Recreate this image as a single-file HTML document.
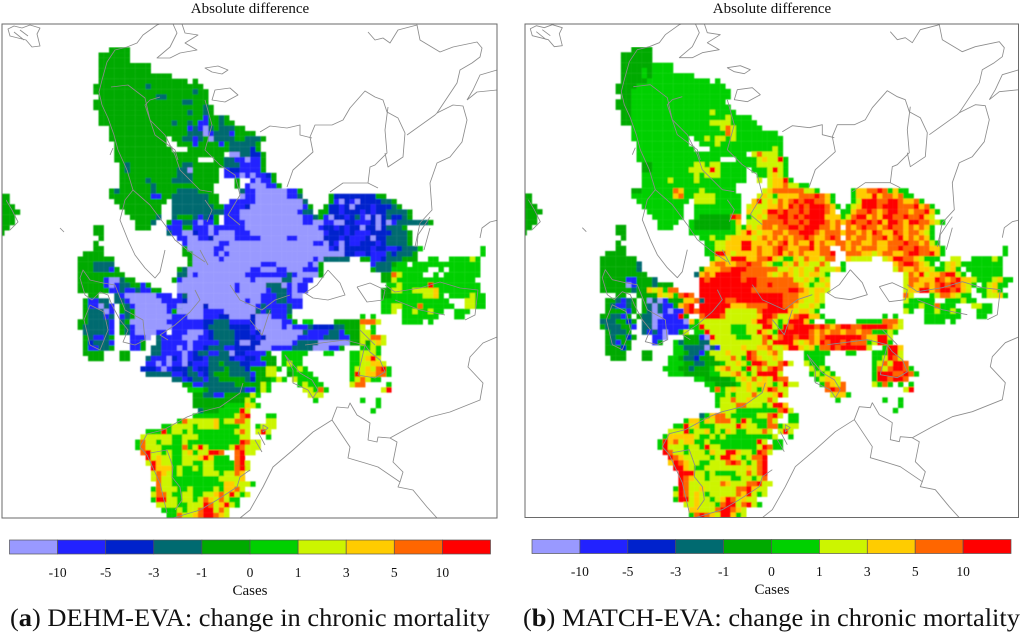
<!DOCTYPE html>
<html lang="en"><head><meta charset="utf-8"><title>Change in chronic mortality</title>
<style>
html,body{margin:0;padding:0;background:#fff}
svg{display:block}
text{font-family:"Liberation Serif",serif;fill:#111}
</style></head>
<body>
<svg id="fig" xmlns="http://www.w3.org/2000/svg" width="1024" height="635" viewBox="0 0 1024 635">
<defs>
<clipPath id="clipA"><rect x="2" y="24" width="495" height="494"/></clipPath>
<clipPath id="clipB"><rect x="525" y="24" width="493.5" height="493.5"/></clipPath>
<filter id="soft" x="0" y="0" width="100%" height="100%"><feGaussianBlur stdDeviation="0.45"/></filter>
<filter id="softline" x="0" y="0" width="100%" height="100%"><feGaussianBlur stdDeviation="0.3"/></filter>
<g id="basemap" fill="none" stroke="#8c8c8c" stroke-width="0.85" stroke-linejoin="round">
<path d="M8 29 L14 26 L22 28 L30 25 L40 28 L37 34 L40 46 L32 47 L26 40 L18 38 L10 36 Z M20 30 L28 36 M14 32 L24 40"/>
<path d="M127 47 L137 43 L143 35 L157 25 L160 24 M173 24 L177 33 L170 47 L157 58 L170 58 L180 53 L197 50 L185 43 L198 35 L185 33 L182 24"/>
<path d="M205 68 L218 66 L228 70 L222 74 L212 72 Z M215 90 L230 88 L238 95 L225 102 L212 100 Z"/>
<path d="M368 32 L375 40 L383 38 L390 43 L398 30 L417 25 L420 40 L440 52 L453 47 L477 42 L482 48 L480 57 L472 63 L460 70 L457 83 L437 113 L435 115 L407 135"/>
<path d="M437 113 L453 105 L463 106 L467 120 L462 142 L450 157 L437 163 L430 183 L432 210 L420 223 L415 247"/>
<path d="M287 187 L293 170 L313 152 L310 137 L315 125 L332 125 L343 120 L350 108 L365 91 L375 97 L383 100 L387 112 L398 118 L405 133 L403 157 L388 167 L385 153"/>
<path d="M260 132 L270 126 L287 128 L300 125 L300 135 L312 138 M368 183 L370 167 L375 165 L387 153 L385 130 L388 107"/>
<path d="M330 192 L343 183 L363 183 L368 183 L378 188 M467 100 L477 92 L497 90 M497 70 L480 75 L473 90 L467 100"/>
<path d="M497 337 L483 343 L470 357 L468 367 L483 383 L480 400 L450 412 L430 417 L410 427 L390 438 L378 437 L377 442 L368 440 L370 423 L357 415 L350 403 L348 408 L337 407 L332 420 L313 432 L293 450 L273 467 L263 487 L250 510 L240 518"/>
<path d="M332 420 L350 447 L348 458 L365 463 L378 467 L400 482 L398 487 L413 490 L427 507 L437 518 M390 438 L397 442 L393 462 L403 472 L400 482"/>
<path d="M480 238 L482 228 L490 222 L498 220 M417 247 L418 235 L430 217 M424 250 L430 228"/>
<path d="M328 270 L340 283 L345 295 L328 300 L313 298 L305 293 L317 285 L328 270 M357 287 L370 283 L385 290 L383 300 L367 302 L357 287"/>
<path d="M127 47 L115 50 L107 62 L102 80 L99 92 L102 105 L108 118 L114 135 L118 150 L127 170 L133 190 L125 200 L120 220 L128 240 L135 255 L145 268 L155 278 L160 272 L165 250"/>
<path d="M111 87 L128 85 L145 98 L150 120 L165 135 L175 155 L180 170 L200 190 L212 192"/>
<path d="M160 97 L150 100 L145 105 L155 135 L175 150 L178 160 M133 190 L150 205 L165 225 L175 240 L190 252 L205 262"/>
<path d="M205 100 L212 125 L205 150 L220 165 L235 175 L240 195 L228 215 L240 225 M205 200 L212 210 L207 222 M200 250 L208 265"/>
<path d="M6 200 L12 210 L18 222 L10 230 M60 228 L64 232 M110 155 L113 148"/>
<path d="M83 270 L90 280 L103 283 L115 285 L125 310 L143 320 L145 340 L135 345 L123 342 L128 330 L120 320 L112 305 L108 295 L100 292 L92 300 L85 295 L80 278 Z"/>
<path d="M90 305 L84 320 L90 345 L100 350 L108 330 L104 312 Z"/>
<path d="M147 434 L163 430 L187 417 L200 412 L220 407 L240 393 L243 383 M147 434 L140 447 L147 455 L160 483 L167 513 M250 470 L240 477 L237 487 L217 500 L200 510 L173 518"/>
<path d="M150 453 L167 450 L173 467 L172 477 L180 487 L182 500 L175 510"/>
<path d="M195 290 L200 300 L190 312 L175 325 L160 335 L168 340 M230 285 L240 300 L262 310 L275 300 L290 295 M250 320 L262 335 L270 310"/>
<path d="M285 355 L300 373 L312 380 L318 390 L313 398 L308 390 L293 383 L293 370 Z M365 345 L358 375 L375 378 L385 372 L380 360 L370 352 Z M360 330 L375 345 M305 345 L345 340 L365 345"/>
<path d="M385 285 L395 292 L420 288 L440 282 L460 288 L478 290 L475 315 L465 320 M395 300 L420 310 L445 315"/>
<path d="M263 425 L268 428 L263 432 Z M265 445 L258 432 M255 440 L262 452"/>
</g>
</defs>
<rect x="0" y="0" width="1024" height="635" fill="#fff"/>
<text x="250" y="13" text-anchor="middle" font-size="15">Absolute difference</text>
<text x="772" y="13" text-anchor="middle" font-size="15">Absolute difference</text>
<g id="panelA"></g>
<g id="panelB"></g>
<g id="legendA"></g>
<g id="legendB"></g>
<text x="10" y="626" font-size="25" textLength="480" lengthAdjust="spacingAndGlyphs">(<tspan font-weight="bold">a</tspan>) DEHM-EVA: change in chronic mortality</text>
<text x="523" y="626" font-size="25" textLength="497" lengthAdjust="spacingAndGlyphs">(<tspan font-weight="bold">b</tspan>) MATCH-EVA: change in chronic mortality</text>
</svg>
<script>
// Level classes: 0 (< -10) ... 9 (> 10). Row format: "startCol count*level ..."; a bare number jumps to that column.
const levelColors = ["#9999ff","#2222ff","#0022cc","#006a70","#00aa00","#00d000","#ccf500","#ffcc00","#ff6600","#ff0000"];
const tickLabels = ["-10","-5","-3","-1","0","1","3","5","10"];
const rowsA = [
"","","","","",
"20 4*4","18 6*4","18 6*4","18 10*4","18 10*4","18 14*4","18 17*4 1*. 1*4",
"17 10*4 1*3 10*4","17 19*4 1*3 2*4","18 11*4 2*3 8*4","17 17*4 2*3 3*4","17 21*4 1*3 1*4",
"18 17*4 1*3 2*4 1*3 1*4","18 20*4 1*1 2*4 1*3 1*4","18 14*4 1*3 2*4 1*3 1*4 2*1 2*4 1*3 2*4",
"20 15*4 1*1 1*3 1*1 1*0 1*3 1*4 3*3 2*4","20 15*4 3*3 1*0 1*1 3*3 1*1 4*4",
"20 11*4 1*. 2*4 1*3 1*3 1*1 1*3 1*4 1*0 4*3 2*4 3*3 1*4",
"21 10*4 2*. 3*4 1*1 4*4 1*1 1*4 5*3 1*4",
"21 11*4 3*. 8*4 4*3 1*2 1*4",
"21 21*4 1*. 2*0 2*3 2*2 1*4",
"21 16*4 3*. 2*4 2*3 2*1 1*0 2*1 1*4",
"22 1*4 1*3 10*4 2*3 6*4 3*3 4*1 1*4",
"22 1*4 1*3 9*4 2*3 1*0 5*4 1*. 1*1 2*2 4*1 1*4",
"22 11*4 3*3 5*4 1*. 3*1 1*0 1*1 1*0 2*1 1*2 1*4",
"22 5*4 1*3 4*4 1*3 3*3 5*4 3*. 1*4 2*. 1*1 1*0 2*1 1*4",
"22 6*4 1*3 11*4 4*. 1*4 1*. 1*1 3*0 2*1 1*4",
"20 1*4 1*3 6*4 1*3 4*4 4*3 3*4 5*. 1*3 2*1 6*0 2*1 1*4",
"-1 2*4 20 8*4 2*1 2*4 32 7*3 2*4 45 1*0 2*1 6*0 2*1 1*3 62 1*4 8*2 2*4",
"-1 2*4 21 10*4 32 7*3 2*4 43 5*1 8*0 1*0 1*3 62 1*4 1*1 1*0 1*2 1*1 1*0 4*2 2*3 1*4",
"-1 3*4 22 8*4 32 6*3 2*3 2*4 42 4*1 1*2 9*0 1*0 1*1 1*4 61 1*4 2*2 1*1 1*2 1*0 3*2 1*1 3*2 1*3 1*4",
"-1 4*4 23 7*4 32 8*3 2*3 42 3*1 11*0 1*1 2*3 60 2*4 2*2 1*1 3*2 1*1 1*2 1*1 2*2 3*3 1*3 1*4",
"-1 3*4 24 5*4 1*3 32 1*3 3*4 1*3 1*1 1*3 1*2 1*4 42 3*1 12*0 2*1 1*3 3*4 61 1*1 1*0 2*2 1*1 1*2 1*3 1*1 1*0 1*2 1*0 1*2 1*3 2*2 1*3 1*4",
"-1 3*4 25 3*4 1*3 31 1*4 2*1 2*3 1*1 1*0 2*1 1*4 42 4*1 11*0 2*1 2*0 2*1 2*0 2*2 3*1 1*2 1*0 1*2 1*0 1*1 1*3 4*3 1*3 1*4",
"-1 2*4 17 2*4 25 3*4 31 3*1 2*4 3*1 1*0 2*1 4*1 14*0 1*1 2*2 1*1 1*2 1*1 2*2 1*0 2*2 1*0 1*2 1*3 2*3 1*4",
"-1 1*4 17 2*4 31 1*3 2*1 2*0 1*2 2*1 1*0 1*1 3*0 2*1 1*1 14*0 1*1 3*2 1*1 1*2 3*1 1*2 3*2 2*3 1*3 1*4",
"18 1*4 33 2*1 2*0 2*1 1*2 3*0 1*0 5*1 5*0 2*1 5*0 3*2 1*1 1*2 3*1 1*2 1*0 2*2 4*3 1*4",
"17 1*4 34 1*1 6*0 2*1 16*0 2*1 1*0 1*2 1*1 1*0 1*2 2*1 2*2 1*2 1*1 1*2 1*3 3*3 1*4",
"17 2*4 34 1*4 5*0 2*1 20*0 1*1 1*2 1*0 2*2 3*2 1*1 2*2 2*1 1*2 1*3 2*3 1*5 91 1*5",
"15 4*4 34 2*4 4*0 1*1 1*0 1*1 22*0 2*2 2*1 1*2 3*1 1*3 1*2 1*3 2*3 1*4 91 1*5",
"14 7*4 35 1*4 5*0 1*1 17*0 1*1 1*0 1*3 4*3 68 2*4 2*1 1*2 3*3 76 3*4 81 2*5 85 4*5 1*6 1*5",
"14 3*4 4*3 35 1*4 13*0 3*1 6*0 1*1 1*0 1*4 70 1*1 3*3 1*4 2*5 1*. 2*5 80 11*5",
"14 3*4 3*3 1*1 1*4 33 1*4 1*3 12*0 2*1 3*0 2*1 3*0 3*1 1*4 70 1*4 3*3 6*5 1*5 2*. 1*5 1*. 6*5",
"14 9*4 33 2*3 1*0 1*1 9*0 8*1 1*3 1*1 4*0 1*4 72 2*4 1*8 1*6 4*5 2*. 1*5 1*. 7*5",
"14 5*4 1*1 2*0 1*3 2*4 32 1*4 1*1 13*0 1*1 5*0 2*3 2*0 2*1 72 2*4 1*6 1*5 1*5 13*5",
"14 5*4 1*1 1*0 1*1 2*3 2*4 1*1 1*4 33 11*0 1*1 5*0 3*3 1*0 1*1 1*0 1*1 1*1 73 2*5 1*6 5*5 1*9 9*5",
"14 6*4 2*1 1*3 1*1 1*1 1*3 2*1 2*4 33 11*0 1*1 5*0 1*1 3*3 1*1 1*0 2*1 72 2*4 2*6 1*5 1*5 4*6 1*7 8*5",
"16 2*4 21 1*3 1*1 6*0 3*1 33 1*1 1*3 14*0 3*1 2*3 1*1 2*0 72 2*4 6*5 2*6 1*7 1*5 1*. 4*5 1*6 2*5",
"15 1*4 2*1 2*3 1*. 1*3 1*3 1*1 6*0 3*1 33 1*1 1*2 11*0 1*1 2*0 3*1 2*3 3*1 72 13*5 3*. 1*6 1*6 2*5",
"15 1*4 2*1 1*0 1*3 1*1 1*. 1*4 1*3 1*1 6*0 2*1 1*4 33 5*0 1*2 9*0 1*1 1*3 4*1 1*3 2*1 72 2*5 2*6 3*5 1*8 6*5 2*. 2*6 2*5",
"15 1*4 3*3 1*0 1*1 1*. 1*4 1*3 1*4 6*0 1*1 2*4 33 5*0 4*1 6*0 1*3 1*1 1*3 3*1 1*3 72 2*5 1*6 76 2*5 1*6 2*5 1*6 2*5 86 3*5",
"15 1*4 3*3 1*1 1*3 1*. 1*1 1*3 1*4 7*0 1*4 32 3*1 3*0 3*1 2*2 4*0 1*2 3*0 3*1 1*4 68 1*5 70 1*5 76 7*5 86 2*5",
"14 2*4 4*3 1*1 22 1*3 1*4 7*0 31 7*1 2*2 3*3 1*1 3*1 1*2 5*0 2*1 1*4 57 2*5 63 5*4 3*8 1*6 76 4*5 81 1*5",
"14 1*4 5*3 1*1 22 1*4 1*3 1*1 6*0 31 1*0 3*1 3*1 1*2 4*3 4*2 1*1 5*0 1*1 1*0 3*1 1*3 4*2 2*3 3*4 1*6 1*. 1*5",
"15 5*3 1*1 22 1*4 1*3 1*1 4*0 1*1 1*1 32 3*1 3*0 1*1 1*2 4*3 3*2 1*1 1*2 7*0 1*0 1*3 2*1 2*1 2*3 1*1 3*4 2*6 1*5",
"15 1*4 1*3 2*1 1*3 1*4 24 3*1 1*0 29 1*3 1*1 31 3*1 3*0 1*1 1*1 1*2 4*3 4*2 1*1 1*2 1*0 2*0 3*0 2*1 3*1 3*3 1*1 1*1 2*4 2*6 2*8 1*6",
"15 1*4 1*2 3*3 1*1 24 2*1 1*4 29 1*3 5*1 1*0 3*1 2*1 3*3 1*2 2*0 1*2 1*2 6*0 1*1 4*3 6*0 2*4 1*6 1*4 1*6 1*7 1*6",
"15 1*4 2*1 2*3 1*4 24 1*1 1*1 1*4 28 2*3 3*1 1*0 1*1 1*0 2*1 1*2 3*3 2*1 3*2 1*2 3*0 4*1 4*3 3*0 2*1 1*4 68 1*5 1*5 1*6 1*5",
"15 3*4 1*4 22 2*4 28 2*3 4*1 1*0 1*1 1*2 2*3 2*1 2*3 1*0 2*2 4*1 1*4 53 5*5 61 2*5 66 2*5 68 3*6 1*5",
"16 3*4 22 2*4 27 1*3 3*1 1*0 1*2 1*1 1*0 1*1 2*2 1*1 4*3 1*2 2*1 2*2 1*1 3*4 53 4*5 66 2*5 68 1*6 1*7 1*9 1*6",
"27 2*1 1*0 1*1 1*0 2*1 1*0 1*2 2*1 1*1 2*3 1*4 3*3 2*2 1*1 2*1 2*4 53 1*5 1*6 2*5 66 2*5 1*6 1*6 1*7 1*7 1*6",
"26 3*2 1*1 1*0 1*1 3*2 1*3 1*1 2*2 3*3 1*4 3*3 1*2 1*4 2*4 2*6 1*5 54 2*5 1*6 1*5 66 1*5 2*6 1*7 1*6 1*8 1*9 1*5",
"27 5*3 2*1 1*2 2*3 1*1 1*2 1*3 3*4 2*3 2*3 1*1 1*4 1*4 1*6 1*6 54 1*4 3*5 1*5 66 1*5 1*9 1*6 2*7 2*8 1*5",
"32 2*3 1*1 1*2 2*3 1*1 2*3 3*4 2*4 1*3 1*2 2*4 1*4 1*5 1*6 1*5 55 1*6 3*5 1*5 66 1*5 1*6 1*8 1*6 1*5 1*5",
"34 2*4 2*1 6*3 3*4 2*4 1*6 1*5 56 1*5 1*6 3*5 66 1*6 2*8 73 1*5",
"35 3*5 1*4 4*3 3*3 1*1 1*1 1*4 1*6 1*5 57 2*6 1*5 1*8 1*5 72 1*6 1*9",
"36 2*4 2*3 2*1 2*4 3*4 1*6 1*5 58 3*6",
"36 5*4 4*4 1*4 1*6 1*5 59 1*5 68 1*5 71 1*5",
"36 6*4 4*5 1*7 1*6 1*5 71 1*5",
"37 1*3 3*4 4*5 1*9 1*6 70 1*5",
"36 2*5 6*5 1*6 1*8 1*9 50 2*5",
"33 1*5 1*8 4*6 1*6 1*7 1*5 2*6 2*8 1*6 50 2*6",
"30 2*5 4*6 1*5 2*6 1*6 1*7 4*5 1*6 1*6 48 1*5 1*6 2*6",
"27 3*5 1*9 1*5 2*6 1*5 1*6 2*5 6*5 1*6 1*8 1*6 48 1*6 1*9 1*6",
"26 6*6 2*5 2*6 1*6 7*5 1*5 2*6 50 1*5",
"25 1*5 1*8 2*6 1*5 2*6 2*5 1*6 1*5 9*5 1*9 1*8 47 2*6",
"25 1*5 1*8 3*6 3*5 1*5 1*8 1*5 1*6 1*9 1*6 4*5 1*6 1*9 1*8 1*6 47 2*6",
"26 1*8 1*9 2*6 1*5 1*6 2*5 1*6 1*7 1*5 2*6 2*9 1*8 44 1*8 1*9 1*6 47 1*6",
"27 1*9 1*6 1*7 2*6 2*5 2*6 1*6 1*7 1*9 1*7 3*5 44 1*8 1*9",
"27 1*6 1*9 1*7 2*6 2*5 2*6 2*5 2*6 5*5 44 1*8 1*9 1*6",
"28 1*9 1*7 2*7 1*5 1*6 2*5 1*6 1*5 2*6 6*5 1*6 44 1*8 1*9",
"28 1*6 1*8 1*7 1*6 1*5 1*6 4*5 2*6 1*6 1*5 1*6 2*6 44 1*8 1*7",
"28 1*6 1*8 2*6 2*5 7*5 2*6 3*6 44 1*6 1*7",
"29 1*8 2*6 2*5 8*5 2*7 1*6 2*6 1*5 45 1*6",
"28 1*5 1*8 1*6 2*6 2*5 1*6 2*5 2*5 1*6 1*5 2*7 1*6 44 1*8 1*6",
"28 1*6 2*8 1*6 2*5 1*6 1*6 2*5 2*6 1*7 1*8 1*6 1*9 1*6 1*5 1*6",
"28 1*5 2*9 1*6 1*6 1*5 2*6 1*5 1*6 1*8 1*7 1*6 1*8 1*6 2*5",
"29 3*6 1*6 1*5 1*5 2*6 1*6 1*9 1*8 1*6 1*7 1*9 1*6 44 1*5",
"30 3*5 1*6 1*5 2*6 1*8 1*9 1*9 1*6 1*8 1*6",
"31 2*5 1*8 2*6 1*7 1*8 1*9 1*9 1*8 1*7 1*6"
];
const rowsB = [
"","","","","",
"20 4*4","18 6*4","18 6*4","18 6*4 4*5","18 4*4 1*5 1*4 4*5","18 4*4 1*5 1*4 8*5","18 5*4 12*5 1*. 1*5",
"17 4*4 17*5","17 3*4 19*5","18 2*4 19*5","17 3*4 18*5","17 3*4 19*5",
"18 2*4 15*5 1*6 4*5","18 2*4 18*5 1*6 4*5","18 2*4 15*5 4*6 5*5",
"20 15*5 2*5 1*6 1*8 1*6 5*5","20 18*5 1*8 1*6 8*5",
"20 11*5 1*. 2*5 1*6 1*5 2*6 1*5 1*6 9*5",
"21 10*5 2*. 3*5 1*6 12*5",
"21 11*5 3*. 12*5 1*6 1*5",
"21 21*5 1*. 1*6 1*8 3*6 1*5",
"21 16*5 3*. 2*5 2*5 1*6 1*7 1*6 1*6 1*9 1*5",
"22 2*4 8*5 2*6 1*5 2*6 7*5 5*6 1*5",
"22 2*4 7*5 4*6 1*9 1*6 5*5 1*. 3*5 1*6 1*9 1*6 1*5",
"22 10*5 1*6 1*5 3*6 5*5 2*. 2*5 1*6 1*7 1*6 1*5",
"22 5*5 1*6 4*5 1*6 9*5 2*. 1*6 1*. 1*6 1*7 1*7 1*9 1*5",
"22 18*5 6*. 1*6 1*7 1*7 1*8 1*6 1*6 2*5",
"20 2*4 6*5 1*8 1*7 3*5 1*6 6*5 5*. 1*6 1*7 6*8 2*6 1*5 62 1*5 2*7 2*8 1*9 1*8 1*5 1*7 2*5",
"-1 2*4 20 8*5 1*7 1*8 2*5 32 4*6 3*5 2*5 44 1*6 1*7 1*6 1*5 1*7 3*7 3*8 1*9 1*8 1*7 1*5 62 1*5 2*7 1*7 1*9 1*7 2*8 1*7 1*8 2*5",
"-1 2*4 21 10*5 32 1*6 3*6 3*5 2*5 43 1*7 1*9 1*6 1*7 1*6 1*8 1*7 1*8 1*9 1*8 2*9 2*8 1*7 1*5 62 1*5 1*6 3*9 2*8 2*9 1*8 2*7 1*8 1*5",
"-1 3*4 22 8*5 32 7*5 2*5 42 1*6 1*7 2*6 1*7 1*7 1*8 1*7 1*9 1*8 1*9 1*8 2*9 1*9 1*8 1*7 1*5 61 1*5 1*6 1*7 3*9 1*8 3*9 3*8 1*9 1*7 1*8 1*5",
"-1 4*4 23 7*5 32 7*5 2*5 42 1*7 2*6 1*7 2*9 1*8 1*9 2*8 1*9 1*8 2*9 1*9 1*8 1*7 60 2*5 1*7 2*8 1*9 1*8 1*7 1*8 2*9 2*8 1*7 2*8 1*9 1*7 1*5",
"-1 3*4 24 6*5 32 1*5 6*4 1*9 1*8 42 1*5 1*6 1*7 1*6 2*8 2*9 1*8 1*9 1*8 3*9 1*9 1*7 2*7 2*5 61 1*6 1*8 2*9 1*7 1*8 1*7 2*9 2*8 1*9 2*8 1*9 1*7 1*6",
"-1 3*4 25 4*5 31 1*5 7*4 1*5 1*7 42 1*6 2*6 2*8 2*8 1*9 2*8 1*9 1*8 3*9 1*8 1*7 1*8 1*7 1*8 1*9 2*8 1*9 1*8 1*9 1*7 2*9 1*8 1*7 2*9 2*8 1*7 1*6 1*5",
"-1 2*4 17 2*4 25 3*5 31 1*5 7*4 1*5 1*6 1*5 42 1*7 1*6 1*7 2*8 1*7 2*8 2*9 1*8 3*9 1*8 1*8 1*7 1*8 61 1*8 1*7 1*8 1*9 2*8 1*7 1*8 1*9 2*8 1*7 1*8 1*7 1*8 1*7 1*5",
"-1 1*4 17 2*4 31 1*5 8*5 1*6 1*7 1*9 1*7 1*6 2*7 2*8 1*7 2*8 2*9 1*9 1*8 1*7 2*8 1*8 1*7 1*8 61 2*8 1*7 1*8 1*7 1*9 1*8 2*7 1*9 1*8 1*7 2*8 1*7 1*6 1*5",
"18 1*4 33 2*5 1*6 2*5 1*6 1*7 3*7 1*6 1*7 1*8 1*7 1*8 1*7 1*8 1*7 2*8 1*9 1*8 2*7 1*8 1*9 1*8 61 1*8 1*7 2*8 1*7 2*8 1*9 1*7 1*8 1*9 1*7 1*8 1*7 1*8 1*7 1*5",
"17 1*4 34 2*5 1*6 1*6 2*7 1*7 2*9 2*7 1*7 1*8 1*7 1*8 1*9 1*7 1*8 2*7 1*9 1*7 1*8 2*7 1*8 60 1*8 1*7 2*8 2*7 1*8 2*7 3*8 1*9 2*8 1*7 1*8 1*6 1*5",
"17 2*4 34 1*5 1*5 1*6 1*6 1*7 2*7 2*9 1*7 1*8 2*7 1*8 1*9 1*8 2*7 2*8 1*9 1*7 2*8 60 1*8 1*7 1*8 1*7 3*8 2*7 2*8 1*9 2*8 1*9 2*8 2*7 1*5 91 1*5",
"15 4*4 34 2*5 2*9 1*7 1*6 1*7 3*7 1*8 2*7 1*8 1*9 1*7 1*8 1*7 1*8 3*7 2*8 1*9 61 3*8 2*7 1*6 1*7 2*8 2*7 1*8 2*9 2*8 1*9 1*7 1*5 91 1*5",
"14 7*4 35 1*5 1*6 1*7 1*6 3*9 2*7 2*8 1*9 1*7 1*6 2*5 1*7 1*6 1*8 2*7 1*6 2*8 61 1*7 1*6 3*6 2*. 68 1*6 1*7 2*9 2*8 1*7 1*6 1*5 76 3*5 81 2*6 85 4*5 1*6 1*5",
"14 3*4 4*4 1*3 35 1*7 2*8 2*7 2*8 1*9 2*8 1*7 1*6 2*5 1*7 1*6 1*8 1*6 1*7 2*6 1*8 1*6 60 1*5 70 1*7 1*8 2*9 1*8 1*7 1*6 1*5 1*. 2*5 80 1*6 1*7 1*6 8*5",
"14 7*4 1*3 33 1*4 1*7 2*7 2*8 3*9 6*8 2*6 1*7 1*6 1*7 2*6 1*8 1*6 2*6 1*7 1*5 70 1*6 1*8 2*7 1*8 2*7 1*6 1*5 1*5 80 1*6 1*7 1*5 83 1*. 7*5",
"14 9*4 32 1*3 1*7 1*8 1*7 5*9 5*8 1*7 1*6 1*7 1*8 1*7 1*6 1*7 1*6 2*7 1*6 1*5 72 1*6 1*8 1*7 1*9 1*6 2*7 1*8 2*9 1*6 1*5 1*. 6*5",
"14 5*4 2*1 3*4 1*3 33 1*9 1*8 6*9 1*8 2*9 5*8 2*8 2*6 1*7 1*6 1*5 1*7 1*6 72 1*6 2*8 3*7 1*9 1*8 1*7 1*8 1*9 2*7 1*6 1*5 2*5 1*6 1*7 2*5",
"14 5*4 1*0 1*1 3*4 1*3 3*4 33 11*9 2*8 1*9 4*8 1*8 1*7 1*6 1*5 2*6 1*7 72 1*6 1*8 2*7 1*8 1*7 1*8 1*9 1*8 1*9 1*8 1*7 1*6 1*5 1*. 1*5 1*6 1*7 2*5",
"14 5*4 1*4 1*3 2*4 1*7 1*6 1*7 1*5 2*8 33 10*9 1*8 6*8 2*9 1*8 1*7 1*6 2*7 1*6 72 1*6 2*7 2*9 1*7 1*8 2*9 1*8 1*9 1*7 1*6 1*. 2*5 1*6 1*7 1*5",
"17 2*4 21 1*4 2*4 1*4 1*7 1*6 1*7 1*5 1*8 1*9 1*8 33 13*9 3*9 2*8 1*8 2*7 1*6 1*7 1*6 72 1*8 1*6 3*. 1*5 1*6 2*8 1*7 1*6 2*5 2*. 1*5 2*6 1*7 1*5",
"15 2*4 1*3 1*1 1*3 1*4 1*. 1*4 1*0 1*3 1*0 1*1 3*4 2*7 1*8 1*9 33 1*3 4*9 2*8 1*9 8*9 1*8 2*8 1*7 2*6 1*7 1*6 72 1*6 5*5 2*. 3*5 1*6 2*5",
"15 1*4 1*3 2*1 1*3 1*4 1*. 1*4 1*3 1*0 1*3 1*1 1*1 1*4 1*7 1*8 1*9 33 6*9 3*7 4*8 3*9 2*8 1*7 2*6 1*7 1*6 1*5 72 3*5 1*6 2*5 1*8 3*5 3*. 2*6 2*5",
"15 4*4 1*1 1*4 1*. 1*4 1*3 1*0 1*3 1*1 1*0 2*1 1*8 1*9 1*8 33 5*9 6*6 1*8 1*9 1*9 3*9 1*7 1*6 2*7 1*6 1*5 72 1*6 1*5 76 2*5 1*6 2*5 1*6 1*5 86 3*5",
"14 2*4 2*3 1*1 1*4 1*. 1*4 1*3 1*3 2*0 3*1 1*9 1*4 33 1*8 3*9 1*8 6*6 1*7 2*9 1*8 2*6 1*7 1*8 2*9 2*7 1*5 68 1*5 70 1*5 76 7*5 86 2*5",
"14 3*3 2*4 1*2 1*4 22 2*3 1*0 5*1 1*0 31 1*7 1*5 5*6 2*6 3*6 1*7 2*9 1*8 1*6 1*5 1*6 3*9 1*7 54 1*5 57 2*5 63 5*5 3*8 1*6 76 4*5 81 1*5",
"14 1*4 3*3 2*4 1*1 22 1*3 1*3 1*0 4*1 1*1 1*1 31 2*5 1*9 1*6 2*6 2*6 3*5 3*6 2*9 1*6 1*5 1*9 1*8 4*9 1*8 1*9 1*8 1*7 1*8 2*9 2*8 3*9 2*9 1*8 1*7 1*6",
"15 1*4 3*3 1*4 22 1*3 1*1 1*3 1*1 1*0 2*1 1*4 1*6 32 2*5 1*9 1*6 1*6 2*6 3*5 2*6 1*9 1*7 1*6 1*5 6*9 1*8 1*7 1*8 1*7 2*8 1*7 2*8 1*7 2*8 3*5 1*6 1*5",
"15 1*4 1*3 2*4 1*2 1*4 24 2*1 1*0 30 3*4 1*1 1*0 1*9 2*6 2*6 3*5 2*6 1*8 1*9 1*6 1*8 2*9 1*8 2*9 1*8 1*7 1*8 2*9 5*9 1*8 2*7 2*9 1*6",
"15 1*4 1*3 1*1 2*4 24 1*1 1*4 28 1*5 1*3 3*4 2*3 1*6 1*6 2*6 1*6 3*6 2*6 1*8 1*6 4*9 1*7 1*6 1*7 1*8 1*7 1*9 1*8 2*9 1*8 1*9 3*8 1*5 1*6 2*9 1*5",
"15 1*4 2*4 1*2 1*4 28 2*5 1*3 3*3 1*0 1*3 1*1 1*6 3*6 1*7 2*6 2*7 1*8 2*6 1*7 2*9 1*7 1*6 1*7 1*5 2*8 1*9 1*8 5*9 1*6 68 1*5 1*9 1*9 1*7",
"15 3*4 1*4 22 2*4 28 2*5 1*4 2*3 1*1 1*4 3*6 1*7 3*6 1*9 1*8 1*6 1*6 1*7 1*8 1*6 53 5*5 61 2*5 66 2*5 68 1*5 2*9 1*6",
"16 3*4 22 2*4 27 2*5 1*4 1*3 1*3 1*2 3*4 3*6 1*8 1*6 1*5 1*9 1*8 1*7 2*6 1*7 1*6 53 4*5 66 1*5 67 1*5 1*6 1*9 1*8 1*6",
"27 3*5 2*4 2*3 3*4 1*5 2*6 1*7 1*6 1*5 2*9 1*8 2*6 1*8 1*9 1*6 53 1*6 3*5 66 1*5 1*6 1*8 1*6 2*9 1*8",
"26 1*5 2*5 2*4 1*3 3*4 1*5 1*6 1*7 1*8 2*6 1*5 1*9 1*6 1*8 1*6 1*8 1*9 1*8 54 1*6 1*5 1*6 1*5 66 1*5 1*8 1*6 1*8 2*9 1*8 1*5",
"27 3*5 2*4 3*4 2*5 2*6 1*7 1*8 1*6 1*5 1*6 1*9 2*9 1*9 1*6 54 1*5 1*6 1*5 1*6 1*5 66 1*5 3*9 2*8 1*9 1*8 1*5",
"32 2*5 5*4 1*5 1*6 1*7 1*6 1*8 1*6 1*7 1*6 1*9 2*8 55 1*5 1*6 2*7 1*6 66 1*5 2*9 1*8 2*9 1*8",
"34 2*5 4*4 1*5 1*6 1*7 1*6 2*7 1*6 1*5 1*6 1*9 1*6 1*6 56 1*5 1*8 1*7 1*6 1*8 66 1*6 1*5 1*8 1*5 1*. 1*5 73 1*5",
"35 1*5 1*8 1*5 1*6 1*7 2*6 1*7 1*6 1*5 1*7 1*9 1*8 1*6 1*6 57 1*8 1*9 2*8 72 1*6 1*9",
"36 2*5 1*6 1*5 1*6 2*6 1*8 2*6 1*6 1*7 1*9 1*6 58 1*6 2*7 1*5",
"36 1*5 2*6 1*8 2*6 1*7 2*6 1*6 1*8 1*6 59 1*5 68 1*5 71 1*5",
"36 1*5 1*6 2*6 2*8 1*6 2*6 1*5 1*6 2*9 1*7 71 1*5",
"37 1*6 2*6 7*5 1*5 1*8 1*9 1*6 70 1*5",
"33 1*3 1*5 1*7 2*8 1*6 5*5 2*6 1*8 1*9 1*6 50 2*5",
"30 1*5 2*7 1*5 1*7 1*6 1*8 2*8 1*6 1*5 1*9 1*6 3*5 1*8 1*6 50 2*5",
"28 2*5 1*9 1*6 1*7 1*5 2*5 1*6 3*6 1*9 1*7 2*6 2*5 2*8 48 1*5 3*6",
"27 3*6 1*9 1*5 2*6 1*7 1*5 1*6 1*5 1*7 1*6 1*5 1*5 1*6 2*6 1*8 1*6 48 1*6 1*9 1*6",
"26 1*5 1*7 3*7 1*7 1*6 2*5 1*6 1*5 1*6 1*5 8*5 1*6 50 1*5",
"25 1*5 1*9 1*7 1*8 1*6 2*7 2*5 1*6 1*5 8*5 1*9 1*6 47 2*5",
"25 1*5 1*9 1*6 2*6 1*5 2*6 1*5 1*9 2*6 6*5 1*5 1*6 1*9 1*8 1*6 47 2*5",
"26 1*9 1*8 2*6 1*5 2*6 1*6 1*5 1*7 2*6 2*9 1*7 2*6 1*5 1*6 44 1*9 1*8 1*6",
"27 1*9 1*8 1*7 2*6 3*6 1*5 1*6 2*9 1*7 1*6 1*5 1*6 1*8 44 1*8 1*9",
"27 1*7 1*9 1*8 1*7 2*6 2*5 1*6 2*6 1*8 1*9 1*8 1*6 1*5 2*6 44 1*8 1*9",
"28 2*9 1*7 1*6 2*5 1*6 4*6 3*6 1*7 2*6 44 1*8 1*9",
"29 3*9 1*6 1*6 1*5 1*6 1*5 1*5 2*5 2*6 1*8 2*6 44 1*8 1*9",
"29 1*9 1*8 1*7 1*6 1*6 1*5 4*6 2*5 1*6 1*6 1*5 1*6 44 1*6 1*8",
"29 1*9 1*8 1*6 2*6 3*6 1*8 1*7 3*6 2*8 1*9 1*6 1*6",
"28 1*5 1*9 1*8 1*6 1*6 1*7 1*6 2*6 3*6 2*8 1*9 1*7 1*6 1*6",
"28 1*6 1*9 1*8 1*6 1*7 1*6 1*5 2*6 3*6 1*8 1*7 1*9 1*6 1*5 1*6",
"28 1*5 2*9 1*6 1*7 2*6 1*5 1*6 1*7 1*9 1*8 1*6 1*7 1*6 1*6",
"30 2*6 1*7 1*6 2*6 1*5 1*8 2*9 1*6 1*8 1*9 1*6 44 1*5",
"31 2*7 3*6 1*8 2*9 1*8 1*7 1*6",
"31 1*5 1*8 1*9 1*8 1*7 1*6 2*9 1*7 1*5 1*6"
];

const SVGNS = "http://www.w3.org/2000/svg";
const cellSize = 5.23;
function xScale(col, originX) { return originX + col * cellSize; }
function yScale(row, originY) { return originY + row * cellSize; }
function colorScale(level) { return levelColors[level]; }

function parseRow(text) {
  const out = [];
  let col = 0;
  text.split(" ").forEach(function (tok) {
    if (!tok) return;
    if (tok.indexOf("*") < 0) { col = parseInt(tok, 10); return; }
    const parts = tok.split("*");
    const n = parseInt(parts[0], 10);
    for (let i = 0; i < n; i++) {
      if (parts[1] !== ".") out.push([col, parseInt(parts[1], 10)]);
      col++;
    }
  });
  return out;
}

function drawPanel(groupId, rows, originX, originY, clipId, frame, mapDx, mapDy, prefix) {
  const host = document.getElementById(groupId);
  const cells = document.createElementNS(SVGNS, "g");
  cells.setAttribute("clip-path", "url(#" + clipId + ")");
  
  
  const inner = document.createElementNS(SVGNS, "g");
  inner.setAttribute("filter", "url(#soft)");
  rows.forEach(function (text, r) {
    parseRow(text).forEach(function (c) {
      const el = document.createElementNS(SVGNS, "rect");
      el.setAttribute("x", xScale(c[0], originX).toFixed(2));
      el.setAttribute("y", yScale(r, originY).toFixed(2));
      el.setAttribute("width", cellSize + 0.15);
      el.setAttribute("height", cellSize + 0.15);
      el.setAttribute("fill", colorScale(c[1]));
      
      
      inner.appendChild(el);
    });
  });
  cells.appendChild(inner);
  host.appendChild(cells);

  const lines = document.createElementNS(SVGNS, "use");
  lines.setAttribute("href", "#basemap");
  lines.setAttribute("transform", "translate(" + mapDx + "," + mapDy + ")");
  lines.setAttribute("filter", "url(#softline)");
  lines.setAttribute("style", "mix-blend-mode:multiply");
  
  
  const wrap = document.createElementNS(SVGNS, "g");
  wrap.setAttribute("clip-path", "url(#" + clipId + ")");
  wrap.appendChild(lines);
  host.appendChild(wrap);

  const box = document.createElementNS(SVGNS, "rect");
  box.setAttribute("x", frame[0]);
  box.setAttribute("y", frame[1]);
  box.setAttribute("width", frame[2]);
  box.setAttribute("height", frame[3]);
  box.setAttribute("fill", "none");
  box.setAttribute("stroke", "#6a6a6a");
  box.setAttribute("stroke-width", "1");
  
  
  host.appendChild(box);
}

function drawLegend(groupId, x0, x1, y0, h, tickY, titleY, titleX) {
  const host = document.getElementById(groupId);
  const w = (x1 - x0) / levelColors.length;
  levelColors.forEach(function (col, i) {
    const el = document.createElementNS(SVGNS, "rect");
    el.setAttribute("x", x0 + i * w);
    el.setAttribute("y", y0);
    el.setAttribute("width", w);
    el.setAttribute("height", h);
    el.setAttribute("fill", col);
    el.setAttribute("stroke", "#555");
    el.setAttribute("stroke-width", "0.7");
    
    
    host.appendChild(el);
  });
  tickLabels.forEach(function (label, i) {
    const t = document.createElementNS(SVGNS, "text");
    t.setAttribute("x", x0 + (i + 1) * w);
    t.setAttribute("y", tickY);
    t.setAttribute("text-anchor", "middle");
    t.setAttribute("font-size", "13.5");
    t.textContent = label;
    
    
    host.appendChild(t);
  });
  const title = document.createElementNS(SVGNS, "text");
  title.setAttribute("x", titleX);
  title.setAttribute("y", titleY);
  title.setAttribute("text-anchor", "middle");
  title.setAttribute("font-size", "15");
  title.textContent = "Cases";
  
  
  host.appendChild(title);
}

drawPanel("panelA", rowsA, 4.4, 21.15, "clipA", [2, 24, 495, 494], 0, 0, "panel-a");
drawPanel("panelB", rowsB, 526.7, 20.85, "clipB", [525, 24, 493.5, 493.5], 522.3, -0.3, "panel-b");
drawLegend("legendA", 9.5, 490.5, 540, 14, 577, 595, 250);
drawLegend("legendB", 532, 1011, 539.5, 14, 576, 594, 772);
</script>
</body></html>
